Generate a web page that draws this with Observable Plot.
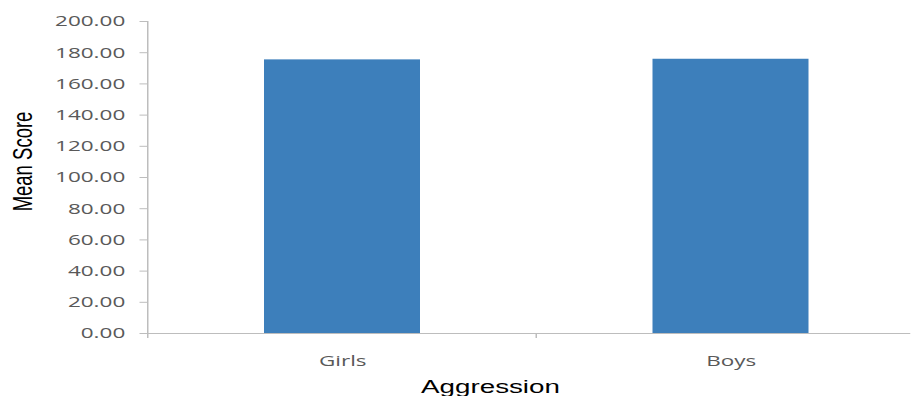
<!DOCTYPE html>
<html>
<head>
<meta charset="utf-8">
<script src="https://cdn.jsdelivr.net/npm/d3@7"></script>
<script src="https://cdn.jsdelivr.net/npm/@observablehq/plot@0.6"></script>
<style>
  html, body { margin: 0; padding: 0; background: #fff; overflow: hidden; }
  #chart svg { transform: scale(1.5, 1); transform-origin: 0 0; display: block; }
  #chart svg [aria-label="y-axis tick"] path,
  #chart svg [aria-label="y-axis tick"] line,
  #chart svg .tick line { stroke: #bdbdbd; }
</style>
</head>
<body>
<div id="chart"></div>
<script>
const categories = ["Girls", "Boys"];
const meanScores = [175.4, 175.8];
const yTicks = [0, 20, 40, 60, 80, 100, 120, 140, 160, 180, 200];
const xTitle = "Aggression";
const yTitle = "Mean Score";

const data = categories.map((c, i) => ({category: c, value: meanScores[i]}));

const axisColor = "#bdbdbd";

function frameLines(index, scales) {
  const x = scales.x, y = scales.y;
  const dom = x.domain();
  const step = x.step(), bw = x.bandwidth();
  const g = d3.create("svg:g").attr("stroke", axisColor).attr("stroke-width", 1).attr("fill", "none");
  const bounds = dom.map(d => x(d) - (step - bw) / 2);
  const y0 = y(yTicks[0]), yTop = y(yTicks[yTicks.length - 1]);
  g.append("line").attr("x1", bounds[0]).attr("x2", bounds[0]).attr("y1", yTop).attr("y2", y0 + 5);
  bounds.slice(1).forEach(b => {
    g.append("line").attr("x1", b).attr("x2", b).attr("y1", y0).attr("y2", y0 + 5);
  });
  return g.node();
}

const W = 607;
const chart = Plot.plot({
  width: W,
  height: 396,
  marginLeft: 98,
  marginRight: 0,
  marginTop: 21,
  marginBottom: 63,
  style: {fontFamily: "'Open Sans', sans-serif", fontSize: "15px", color: "#595959", background: "#fff"},
  x: {domain: categories, range: [98, 616], paddingInner: 0.6, paddingOuter: 0.3, tickSize: 0, tickPadding: 22, label: null},
  y: {domain: [0, 200], ticks: 10, tickFormat: d3.format(".2f"), tickSize: 5, tickPadding: 10, label: null},
  marks: [
    Plot.barY(data, {x: "category", y: "value", fill: "#3d7fbb"}),
    Plot.ruleY([0], {stroke: axisColor}),
    frameLines,
    Plot.text([yTitle], {frameAnchor: "left", textAnchor: "middle", rotate: -90, dx: -83, dy: -16, fontFamily: "'Liberation Sans', Arial, sans-serif", fontSize: 18.5, fill: "#000"}),
    Plot.text([xTitle], {frameAnchor: "bottom", dx: -26, dy: 59.5, fontFamily: "'Liberation Sans', Arial, sans-serif", fontSize: 18.5, fill: "#000"})
  ]
});
document.getElementById("chart").appendChild(chart);
</script>
</body>
</html>
